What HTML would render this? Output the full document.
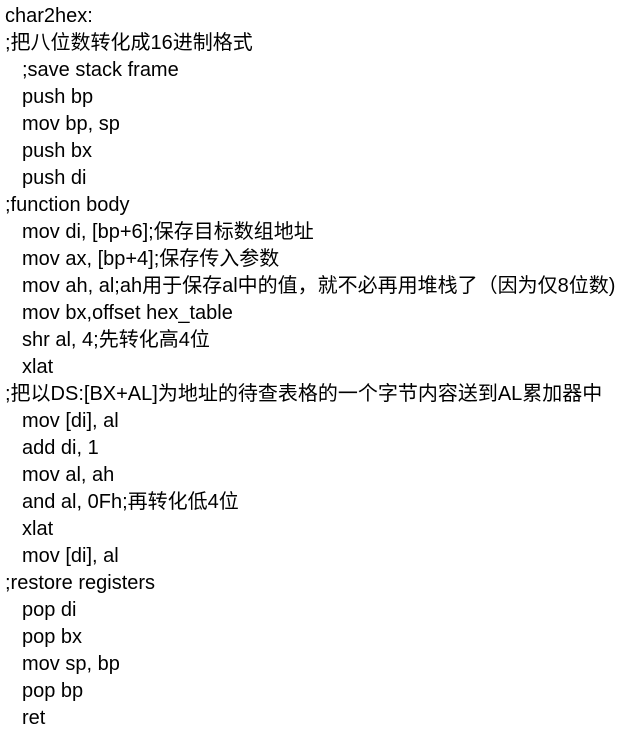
<!DOCTYPE html>
<html><head><meta charset="utf-8"><style>
html,body{margin:0;padding:0;background:#fff;width:630px;height:742px;overflow:hidden}
.c{position:absolute;left:5px;top:3px;font-family:"Liberation Sans","Noto Sans CJK SC",sans-serif;font-size:20px;line-height:27px;color:#000;white-space:pre}
.i{padding-left:17px}
</style></head><body><div class="c"><div>char2hex:</div><div>;把八位数转化成16进制格式</div><div class="i">;save stack frame</div><div class="i">push bp</div><div class="i">mov bp, sp</div><div class="i">push bx</div><div class="i">push di</div><div>;function body</div><div class="i">mov di, [bp+6];保存目标数组地址</div><div class="i">mov ax, [bp+4];保存传入参数</div><div class="i">mov ah, al;ah用于保存al中的值，就不必再用堆栈了（因为仅8位数)</div><div class="i">mov bx,offset hex_table</div><div class="i">shr al, 4;先转化高4位</div><div class="i">xlat</div><div>;把以DS:[BX+AL]为地址的待查表格的一个字节内容送到AL累加器中</div><div class="i">mov [di], al</div><div class="i">add di, 1</div><div class="i">mov al, ah</div><div class="i">and al, 0Fh;再转化低4位</div><div class="i">xlat</div><div class="i">mov [di], al</div><div>;restore registers</div><div class="i">pop di</div><div class="i">pop bx</div><div class="i">mov sp, bp</div><div class="i">pop bp</div><div class="i">ret</div></div></body></html>
